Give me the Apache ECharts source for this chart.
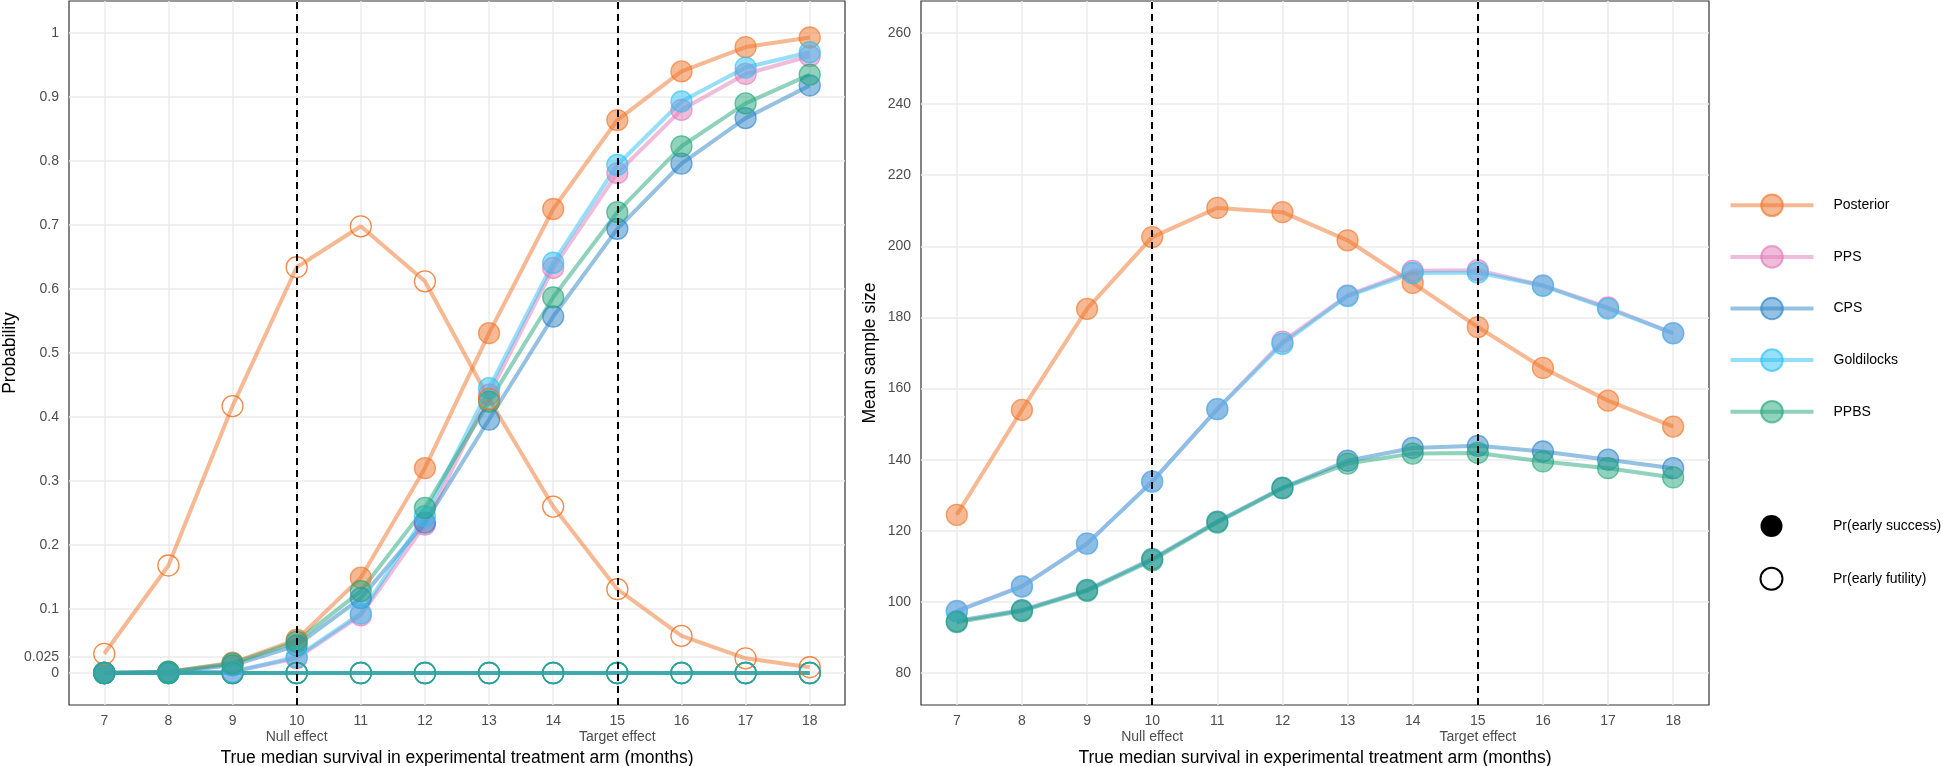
<!DOCTYPE html>
<html>
<head>
<meta charset="utf-8">
<script src="https://cdn.jsdelivr.net/npm/echarts@6/dist/echarts.min.js"></script>
<style>
html,body{margin:0;padding:0;background:#fff;}
#chart{width:1943px;height:766px;}
</style>
</head>
<body>
<div id="chart"></div>
<script>
// ---------- data ----------
const months = [7, 8, 9, 10, 11, 12, 13, 14, 15, 16, 17, 18];
const methods = ['Posterior', 'PPS', 'CPS', 'Goldilocks', 'PPBS'];
const refLines = [10, 15];
const refLabels = ['Null effect', 'Target effect'];
const probTicks = [0, 0.025, 0.1, 0.2, 0.3, 0.4, 0.5, 0.6, 0.7, 0.8, 0.9, 1];
const sizeTicks = [80, 100, 120, 140, 160, 180, 200, 220, 240, 260];

// Pr(early success)
const posteriorSuccess  = [0, 0.002, 0.016, 0.052, 0.149, 0.320, 0.531, 0.725, 0.864, 0.940, 0.978, 0.993];
const ppsSuccess        = [0, 0.001, 0.002, 0.023, 0.090, 0.232, 0.435, 0.633, 0.781, 0.880, 0.936, 0.964];
const cpsSuccess        = [0, 0.001, 0.012, 0.043, 0.117, 0.235, 0.396, 0.557, 0.694, 0.796, 0.867, 0.918];
const goldilocksSuccess = [0, 0.001, 0.002, 0.025, 0.093, 0.245, 0.445, 0.641, 0.794, 0.893, 0.946, 0.970];
const ppbsSuccess       = [0, 0.002, 0.015, 0.049, 0.128, 0.258, 0.424, 0.587, 0.720, 0.823, 0.890, 0.935];

// Pr(early futility)
const posteriorFutility  = [0.030, 0.168, 0.417, 0.634, 0.698, 0.612, 0.428, 0.260, 0.131, 0.058, 0.023, 0.009];
const ppsFutility        = [0, 0, 0, 0, 0, 0, 0, 0, 0, 0, 0, 0];
const cpsFutility        = [0, 0, 0, 0, 0, 0, 0, 0, 0, 0, 0, 0];
const goldilocksFutility = [0, 0, 0, 0, 0, 0, 0, 0, 0, 0, 0, 0];
const ppbsFutility       = [0, 0, 0, 0, 0, 0, 0, 0, 0, 0, 0, 0];

// Mean sample size
const posteriorSize  = [124.5, 154.0, 182.4, 202.6, 210.8, 209.6, 201.7, 189.7, 177.3, 165.8, 156.6, 149.3];
const ppsSize        = [97.5, 104.4, 116.4, 133.9, 154.2, 173.2, 186.2, 193.1, 193.3, 189.0, 182.8, 175.6];
const cpsSize        = [94.6, 97.7, 103.4, 112.1, 122.6, 132.1, 139.7, 143.3, 143.9, 142.3, 140.0, 137.6];
const goldilocksSize = [97.3, 104.3, 116.4, 133.8, 154.2, 172.6, 186.0, 192.5, 192.6, 188.9, 182.5, 175.5];
const ppbsSize       = [94.3, 97.4, 103.1, 111.7, 122.3, 131.9, 138.9, 141.7, 141.9, 139.5, 137.6, 135.0];

// ---------- styles ----------
const palette = {Posterior:'#F07427', PPS:'#E27AB8', CPS:'#2B83C6', Goldilocks:'#2BC0F2', PPBS:'#22A57A'};
const successData = {Posterior:posteriorSuccess, PPS:ppsSuccess, CPS:cpsSuccess, Goldilocks:goldilocksSuccess, PPBS:ppbsSuccess};
const futilityData = {Posterior:posteriorFutility, PPS:ppsFutility, CPS:cpsFutility, Goldilocks:goldilocksFutility, PPBS:ppbsFutility};
const sizeData = {Posterior:posteriorSize, PPS:ppsSize, CPS:cpsSize, Goldilocks:goldilocksSize, PPBS:ppbsSize};

const FONT = "'Liberation Sans', Arial, sans-serif";
function rgba(hex, a){
  const n = parseInt(hex.slice(1), 16);
  return 'rgba(' + ((n>>16)&255) + ',' + ((n>>8)&255) + ',' + (n&255) + ',' + a + ')';
}

function mk(name, vals, idx, hollow){
  const c = palette[name];
  return {
    type:'line', name:name, xAxisIndex:idx, yAxisIndex:idx,
    data: months.map((m,i)=>[m, vals[i]]),
    symbol:'circle', symbolSize:21, showSymbol:true, silent:true,
    lineStyle:{color:rgba(c,0.5), width:4},
    itemStyle: hollow
      ? {color:'rgba(255,255,255,0)', borderColor:rgba(c,0.85), borderWidth:1.3}
      : {color:rgba(c,0.5), borderColor:rgba(c,0.65), borderWidth:1.3},
    emphasis:{disabled:true}
  };
}

const series = [];
methods.forEach(m => series.push(mk(m, successData[m], 0, false)));
methods.forEach(m => series.push(mk(m, futilityData[m], 0, true)));
methods.forEach(m => series.push(mk(m, sizeData[m], 1, false)));

// reference lines
[0,1].forEach(idx => series.push({
  type:'line', xAxisIndex:idx, yAxisIndex:idx, data:[], silent:true,
  markLine:{symbol:'none', silent:true, z:10, animation:false, label:{show:false},
    lineStyle:{color:'#000', type:[7,5], width:2},
    data: refLines.map(v => ({xAxis:v}))}
}));

// legend-only entries
series.push({type:'line', name:'Pr(early success)', xAxisIndex:1, yAxisIndex:1, data:[],
  itemStyle:{color:'#000'}});
series.push({type:'line', name:'Pr(early futility)', xAxisIndex:1, yAxisIndex:1, data:[],
  itemStyle:{color:'#fff', borderColor:'#000', borderWidth:1.5}});

function xLabel(v){
  const k = refLines.indexOf(v);
  if (k >= 0) return '{a|' + v + '}\n{b|' + refLabels[k] + '}';
  return '{a|' + v + '}';
}

function xAxisCfg(idx){
  return {
    type:'value', gridIndex:idx, min:6.45, max:18.55,
    name:'True median survival in experimental treatment arm (months)',
    nameLocation:'middle', nameGap:37,
    nameTextStyle:{fontFamily:FONT, fontSize:17.5, color:'#000'},
    axisLine:{show:false},
    axisTick:{show:false, customValues:months},
    axisLabel:{customValues:months, margin:8, formatter:xLabel,
      rich:{a:{fontFamily:FONT, fontSize:14, color:'#4d4d4d', lineHeight:16},
            b:{fontFamily:FONT, fontSize:14, color:'#4d4d4d', lineHeight:16}}},
    splitLine:{show:true, lineStyle:{color:'#ebebeb', width:1.5}}
  };
}

function yAxisCfg(idx, name, min, max, ticks, gap){
  return {
    type:'value', gridIndex:idx, min:min, max:max, name:name,
    nameLocation:'middle', nameGap:gap,
    nameTextStyle:{fontFamily:FONT, fontSize:17.5, color:'#000'},
    axisLine:{show:false},
    axisTick:{show:false, customValues:ticks},
    axisLabel:{customValues:ticks, margin:10, fontFamily:FONT, fontSize:14, color:'#4d4d4d'},
    splitLine:{show:true, lineStyle:{color:'#ebebeb', width:1.5}}
  };
}

const option = {
  animation:false,
  backgroundColor:'#fff',
  grid:[
    {left:69, top:1, width:776, height:704, show:true, borderColor:'#333', borderWidth:1.2,
     containLabel:false, outerBoundsMode:'none'},
    {left:921, top:1, width:788, height:704, show:true, borderColor:'#333', borderWidth:1.2,
     containLabel:false, outerBoundsMode:'none'}
  ],
  xAxis:[xAxisCfg(0), xAxisCfg(1)],
  yAxis:[
    yAxisCfg(0, 'Probability', -0.05, 1.05, probTicks, 50),
    yAxisCfg(1, 'Mean sample size', 71, 269, sizeTicks, 42)
  ],
  legend:[
    {orient:'vertical', left:1723.5, top:188.5, itemWidth:83, itemHeight:27, itemGap:28,
     selectedMode:false, data:methods, lineStyle:{width:4},
     textStyle:{fontFamily:FONT, fontSize:14, color:'#000', padding:[0,0,0,15]}},
    {orient:'vertical', left:1754.5, top:510, itemWidth:83, itemHeight:22, itemGap:29.7,
     selectedMode:false, icon:'circle',
     data:['Pr(early success)', 'Pr(early futility)'],
     textStyle:{fontFamily:FONT, fontSize:14, color:'#000', padding:[0,0,0,15]}}
  ],
  series:series
};

const chart = echarts.init(document.getElementById('chart'), null, {renderer:'canvas'});
chart.setOption(option);
</script>
</body>
</html>
